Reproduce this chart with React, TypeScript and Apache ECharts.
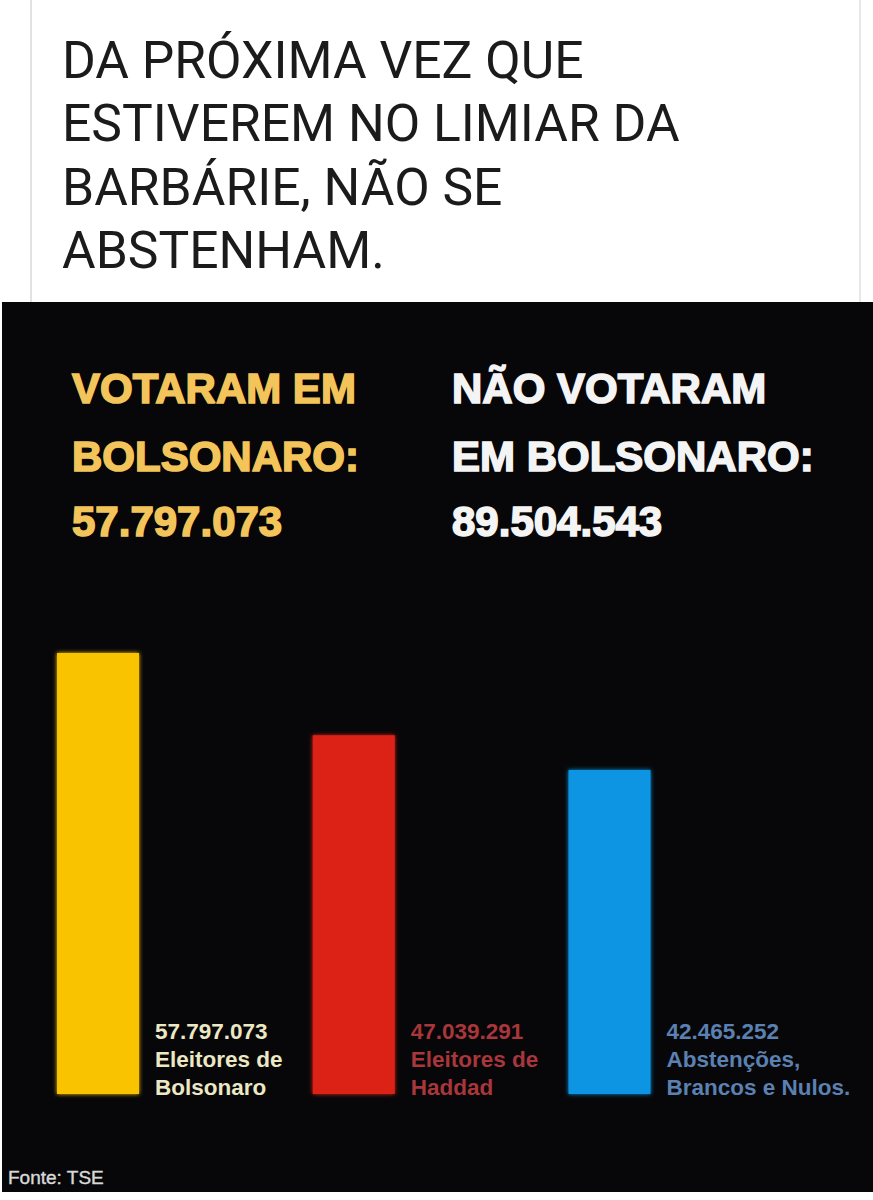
import React, { useEffect, useRef } from "react";
import * as echarts from "echarts";

const categories = ["Bolsonaro", "Haddad", "Abstenções, Brancos e Nulos"];
const values = [57797073, 47039291, 42465252];
const barColors = ["#fac300", "#dc2318", "#0894e2"];
const labelColors = ["#ece8c4", "#a8363a", "#5b80b2"];
const labelLines = ["Eleitores de\nBolsonaro", "Eleitores de\nHaddad", "Abstenções,\nBrancos e Nulos."];
const headlineLines = ["DA PRÓXIMA VEZ QUE", "ESTIVEREM NO LIMIAR DA", "BARBÁRIE, NÃO SE", "ABSTENHAM."];
const leftHeading = ["VOTARAM EM", "BOLSONARO:"];
const rightHeading = ["NÃO VOTARAM", "EM BOLSONARO:"];
const sourceText = "Fonte: TSE";

const fmt = (v: number) => String(Math.round(v)).replace(/\B(?=(\d{3})+(?!\d))/g, ".");

export default function App() {
  const ref = useRef<HTMLDivElement>(null);
  useEffect(() => {
    if (!ref.current) return;
    const chart = echarts.init(ref.current, null, { renderer: "svg" });
    const notVoted = values[1] + values[2];
    const headFont = "'Liberation Sans', Arial, sans-serif";
    const graphic: any[] = [
      { type: "line", shape: { x1: 31, y1: 0, x2: 31, y2: 302 }, style: { stroke: "#d8d8d8", lineWidth: 1.5 }, z: 0 },
      { type: "line", shape: { x1: 860, y1: 0, x2: 860, y2: 302 }, style: { stroke: "#e0e0e0", lineWidth: 1.5 }, z: 0 },
      { type: "rect", shape: { x: 2, y: 302, width: 871, height: 890 }, style: { fill: "#070709" }, z: 0 },
    ];
    headlineLines.forEach((t, i) => {
      graphic.push({
        type: "text", x: 62, y: 60 + i * 63.5, z: 1,
        style: { text: t, fill: "#1b1b1b", font: "400 51.6px Roboto, sans-serif", verticalAlign: "middle" },
      });
    });
    const leftLines = [...leftHeading, fmt(values[0])];
    const rightLines = [...rightHeading, fmt(notVoted)];
    leftLines.forEach((t, i) => {
      graphic.push({
        type: "text", x: 72, y: [388, 456, 521][i], z: 1,
        style: { text: t, fill: "#f3c45a", stroke: "#f3c45a", lineWidth: 1.6, font: `bold 42px ${headFont}`, verticalAlign: "middle" },
      });
    });
    rightLines.forEach((t, i) => {
      graphic.push({
        type: "text", x: 452, y: [388, 456, 521][i], z: 1,
        style: { text: t, fill: "#f4f4f4", stroke: "#f4f4f4", lineWidth: 1.6, font: `bold 42px ${headFont}`, verticalAlign: "middle" },
      });
    });
    graphic.push({
      type: "text", x: 8, y: 1177, z: 1,
      style: { text: sourceText, fill: "#d8d8d8", stroke: "#d8d8d8", lineWidth: 0.4, font: `19px ${headFont}`, verticalAlign: "middle" },
    });

    chart.setOption({
      animation: false,
      backgroundColor: "#ffffff",
      graphic,
      grid: { left: 98, right: 263.5, top: 560, bottom: 106 },
      xAxis: {
        type: "category",
        data: categories,
        boundaryGap: false,
        axisLine: { show: false },
        axisTick: { show: false },
        axisLabel: { show: false },
      },
      yAxis: {
        type: "value",
        min: 0,
        max: 70000000,
        axisLabel: { show: false },
        splitLine: { show: false },
        axisLine: { show: false },
        axisTick: { show: false },
      },
      series: [
        {
          type: "bar",
          barWidth: 82,
          z: 3,
          data: values.map((v, i) => ({
            value: v,
            itemStyle: { color: barColors[i], shadowColor: barColors[i], shadowBlur: 4 },
            label: { color: labelColors[i] },
          })),
          label: {
            show: true,
            position: ["100%", "100%"],
            align: "left",
            verticalAlign: "bottom",
            offset: [16, 7],
            fontFamily: headFont,
            fontWeight: "bold",
            fontSize: 22.5,
            lineHeight: 28,
            formatter: (p: any) => fmt(p.value) + "\n" + labelLines[p.dataIndex],
          },
        },
      ],
    });
    return () => chart.dispose();
  }, []);
  return (
    <div
      ref={ref}
      style={{ position: "absolute", left: 0, top: 0, width: 873, height: 1200 }}
    />
  );
}
